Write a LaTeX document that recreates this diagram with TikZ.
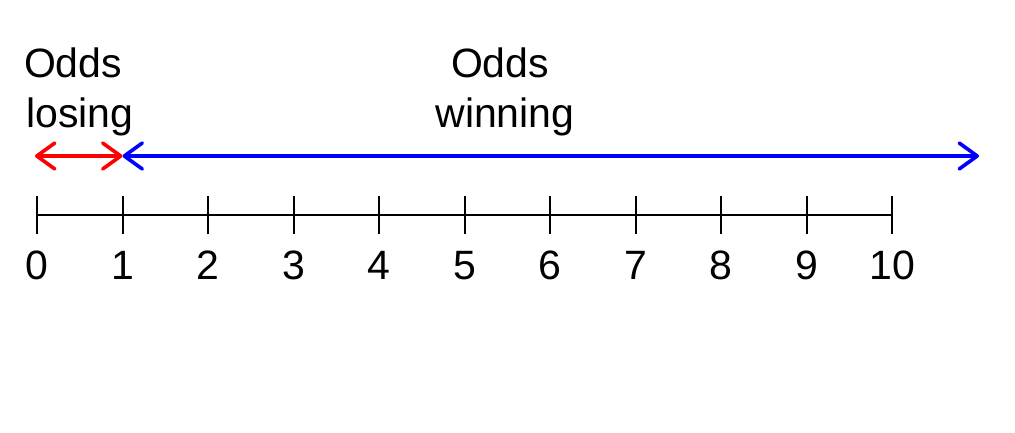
\documentclass[tikz,border=0pt]{standalone}
\usepackage{fontspec}
\setmainfont{Liberation Sans}
\usetikzlibrary{arrows.meta}
\begin{document}
\begin{tikzpicture}[x=1pt,y=-1pt,
  lbl/.style={font=\fontsize{41}{48}\selectfont, inner sep=0pt, anchor=base},
  tick/.style={line width=2pt, black},
  odds/.style={line width=3.6pt, {Straight Barb[length=18pt,width=26pt,line cap=round,line join=round]}-{Straight Barb[length=18pt,width=26pt,line cap=round,line join=round]}}]
\useasboundingbox (0,0) rectangle (1015,432);
% axis
\coordinate (a0) at (37,215);
\coordinate (a10) at (892,215);
\draw[tick] (a0) -- (a10);
\foreach \i in {0,...,10}{
  \coordinate (t\i) at ({37+85.5*\i},215);
  \draw[tick] ([yshift=-19pt]t\i) -- ([yshift=19pt]t\i);
  \node[lbl] (n\i) at ({37+85.5*\i},279) {\i};
}
% arrows
\coordinate (r0) at (35,156);
\coordinate (r1) at (122.5,156);
\coordinate (b1) at (122.5,156);
\coordinate (b2) at (979,156);
\draw[odds, red] (r0) -- (r1);
\draw[odds, blue] (b1) -- (b2);
% labels
\node[lbl] (ol1) at (73,77) {Odds};
\node[lbl] (ol2) at (80,127) {losing};
\node[lbl] (ow1) at (500,77) {Odds};
\node[lbl] (ow2) at (505,127) {winning};
\end{tikzpicture}
\end{document}
